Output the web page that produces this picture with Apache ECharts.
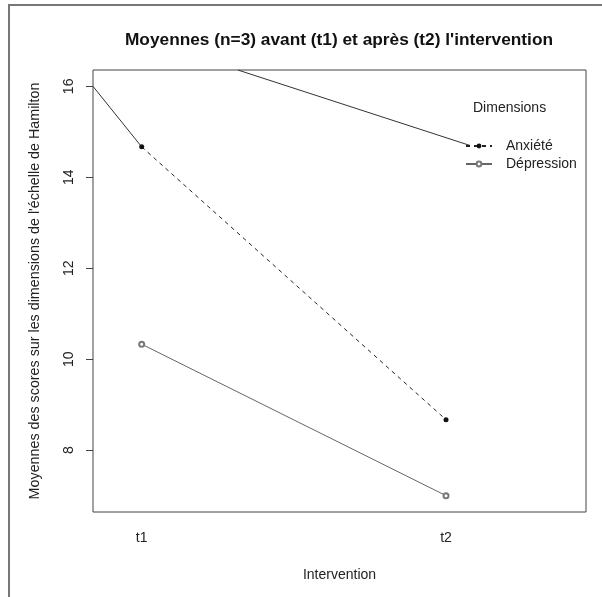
<!DOCTYPE html>
<html>
<head>
<meta charset="utf-8">
<script src="https://cdn.jsdelivr.net/npm/echarts@6/dist/echarts.min.js"></script>
<style>
html,body{margin:0;padding:0;background:#fff;}
#chart{width:602px;height:597px;}
</style>
</head>
<body>
<div id="chart"></div>
<script>
// Data
const categories = ['t1', 't2'];
const categoryPositions = [1, 2];
const seriesNames = ['Anxiété', 'Dépression'];
const anxiete = [14.67, 8.67];
const depression = [10.33, 7.0];
const yTicks = [8, 10, 12, 14, 16];
// stray segments visible in the reference (axis units)
const strayLineA = [[0.84, 16.0], [1.0, 14.67]];
const strayLineB = [[1.316, 16.36], [2.079, 14.70]];

const FONT = '"Liberation Sans", Arial, Helvetica, sans-serif';
const chart = echarts.init(document.getElementById('chart'), null, {renderer: 'canvas'});

const toPairs = vals => vals.map((v, i) => [categoryPositions[i], v]);

chart.setOption({
  animation: false,
  backgroundColor: '#fff',
  title: {
    text: 'Moyennes (n=3) avant (t1) et après (t2) l\'intervention',
    left: 334, top: 27, textAlign: 'center',
    textStyle: {fontFamily: FONT, fontSize: 17.3, fontWeight: 'bold', color: '#111'}
  },
  graphic: [
    {type: 'polyline', shape: {points: [[9, 597], [9, 5], [602, 5]]},
     style: {stroke: '#777', lineWidth: 2, fill: null}, silent: true},
    {type: 'text', left: 473, top: 101,
     style: {text: 'Dimensions', font: '14px ' + FONT, fill: '#222'}}
  ],
  legend: {
    data: seriesNames,
    orient: 'vertical',
    left: 465, top: 139,
    itemWidth: 26, itemHeight: 6, itemGap: 4,
    textStyle: {fontFamily: FONT, fontSize: 14, color: '#222', padding: [0, 0, 0, 9]},
    padding: 0
  },
  grid: {left: 93, right: 16, top: 70, bottom: 85, show: true, borderColor: '#444', borderWidth: 1, containLabel: false},
  xAxis: {
    type: 'value', min: 0.84, max: 2.46,
    name: 'Intervention', nameLocation: 'middle', nameGap: 56,
    nameTextStyle: {fontFamily: FONT, fontSize: 14, color: '#222'},
    axisLine: {show: false}, axisTick: {show: false}, splitLine: {show: false},
    axisLabel: {
      customValues: categoryPositions, margin: 19,
      fontFamily: FONT, fontSize: 14, color: '#222',
      formatter: v => categories[categoryPositions.indexOf(v)] || ''
    }
  },
  yAxis: {
    type: 'value', min: 6.64, max: 16.36,
    name: 'Moyennes des scores sur les dimensions de l\'échelle de Hamilton',
    nameLocation: 'middle', nameGap: 51,
    nameTextStyle: {fontFamily: FONT, fontSize: 14.3, color: '#222'},
    axisLine: {show: false}, splitLine: {show: false},
    axisTick: {show: true, customValues: yTicks, length: 7, lineStyle: {color: '#444'}},
    axisLabel: {customValues: yTicks, rotate: 90, margin: 17, fontFamily: FONT, fontSize: 14, color: '#222'}
  },
  series: [
    {name: seriesNames[0], type: 'line', data: toPairs(anxiete),
     symbol: 'circle', symbolSize: 5,
     itemStyle: {color: '#111'},
     lineStyle: {color: '#222', width: 1, type: [4, 4]}},
    {name: seriesNames[1], type: 'line', data: toPairs(depression),
     symbol: 'emptyCircle', symbolSize: 5,
     itemStyle: {color: '#777', borderWidth: 1},
     lineStyle: {color: '#666', width: 1}},
    {name: 'strayA', type: 'line', data: strayLineA, symbol: 'none', silent: true,
     lineStyle: {color: '#333', width: 1}},
    {name: 'strayB', type: 'line', data: strayLineB, symbol: 'none', silent: true,
     lineStyle: {color: '#333', width: 1}}
  ]
});
</script>
</body>
</html>
